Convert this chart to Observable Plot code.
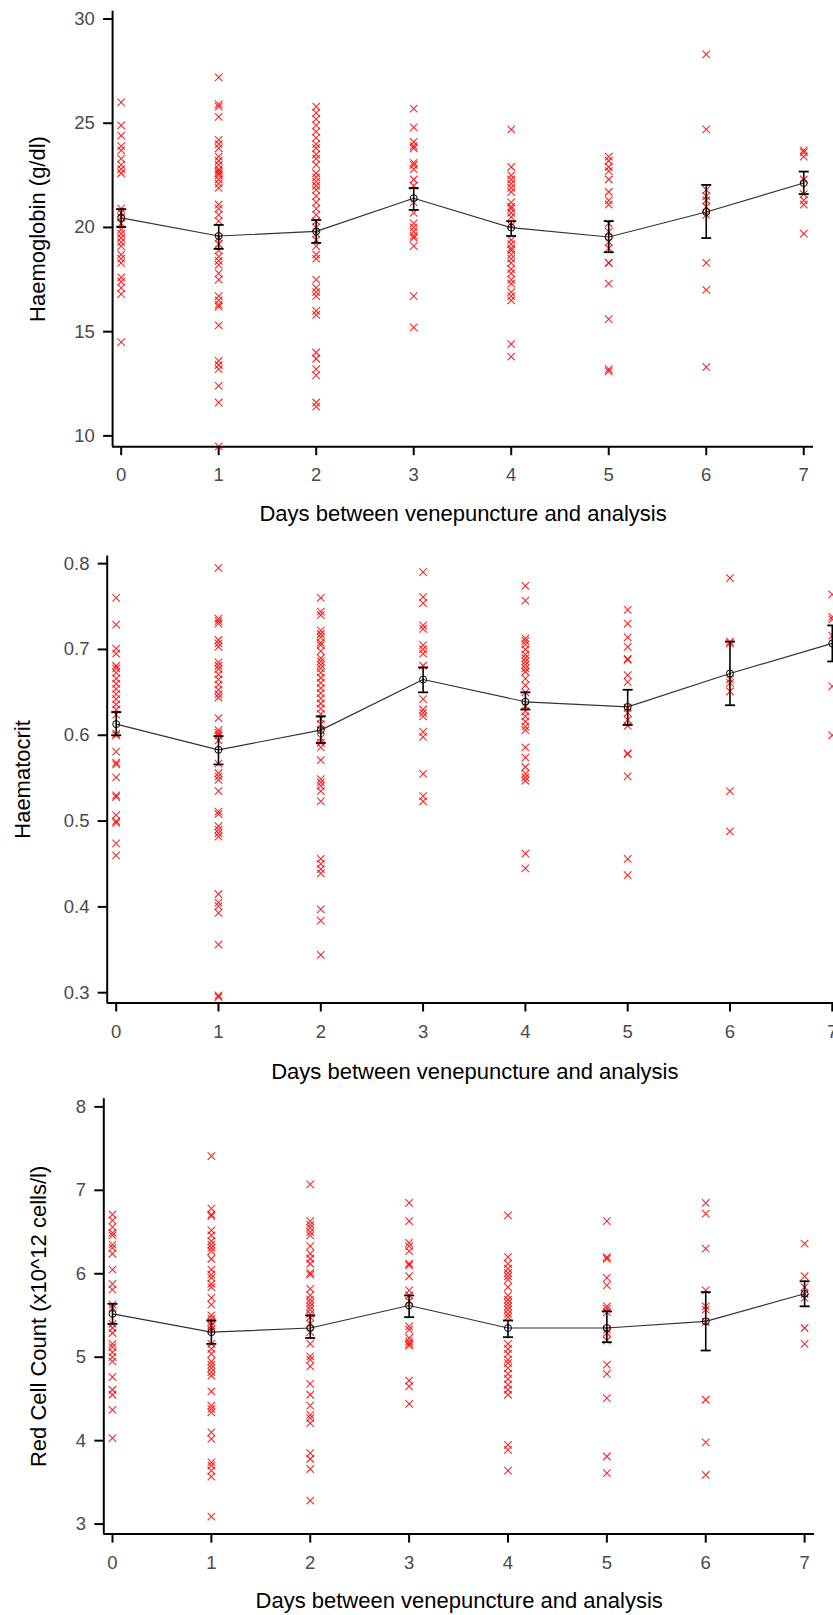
<!DOCTYPE html>
<html>
<head>
<meta charset="utf-8">
<script src="https://cdn.jsdelivr.net/npm/d3@7"></script>
<script src="https://cdn.jsdelivr.net/npm/@observablehq/plot@0.6"></script>
<style>
  html, body { margin: 0; padding: 0; background: #fff; overflow: hidden; }
  #chart svg { display: block; }
</style>
</head>
<body>
<div id="chart"></div>
<script>
// ---------- data ----------
const days = [0, 1, 2, 3, 4, 5, 6, 7];
const xTitle = "Days between venepuncture and analysis";

// Haemoglobin (g/dl) individual samples per day
const hbPoints = [
  [26.0, 24.9, 24.4, 23.9, 23.7, 23.3, 23.0, 22.8, 22.6, 20.9, 20.7, 20.5, 20.2, 19.9, 19.7, 19.5, 19.3, 19.1, 18.7, 18.5, 18.3, 17.6, 17.4, 17.1, 16.8, 14.5],
  [27.2, 25.9, 25.8, 25.3, 24.2, 24.0, 23.8, 23.4, 23.2, 23.0, 22.8, 22.7, 22.6, 22.5, 22.3, 22.1, 21.9, 21.1, 20.9, 20.6, 20.3, 19.5, 19.2, 18.9, 18.6, 18.4, 18.2, 17.8, 17.5, 16.7, 16.5, 16.3, 16.2, 15.3, 13.6, 13.4, 13.2, 12.4, 11.6, 9.5],
  [25.8, 25.5, 25.2, 24.9, 24.6, 24.3, 24.0, 23.8, 23.5, 23.3, 23.0, 22.6, 22.4, 22.2, 22.0, 21.8, 21.5, 21.2, 20.9, 20.6, 20.3, 20.0, 19.7, 19.4, 19.1, 18.7, 18.5, 17.5, 17.1, 16.9, 16.7, 16.0, 15.8, 14.0, 13.7, 13.2, 12.9, 11.6, 11.4],
  [25.7, 24.8, 24.1, 23.9, 23.8, 23.1, 23.0, 22.8, 22.3, 22.0, 21.2, 20.7, 20.2, 20.0, 19.8, 19.6, 19.5, 19.1, 16.7, 15.2],
  [24.7, 22.9, 22.5, 22.3, 22.1, 21.9, 21.7, 21.2, 21.0, 20.9, 20.7, 20.5, 20.1, 19.4, 19.2, 19.0, 18.9, 18.7, 18.5, 18.3, 18.0, 17.8, 17.5, 17.3, 16.9, 16.7, 16.5, 14.4, 13.8],
  [23.4, 23.2, 22.9, 22.7, 22.3, 21.7, 21.3, 21.1, 20.2, 19.8, 19.3, 19.0, 18.3, 18.3, 17.3, 15.6, 13.2, 13.1],
  [28.3, 24.7, 21.8, 21.5, 21.3, 21.0, 20.6, 18.3, 17.0, 13.3],
  [23.7, 23.6, 23.4, 22.3, 21.6, 21.3, 21.1, 19.7]
];
const hbMean = [20.46, 19.59, 19.81, 21.40, 19.99, 19.54, 20.74, 22.13];
const hbLow  = [20.02, 18.97, 19.26, 20.84, 19.59, 18.81, 19.49, 21.60];
const hbHigh = [20.88, 20.12, 20.35, 21.89, 20.30, 20.30, 22.04, 22.68];
const hbTicks = [10, 15, 20, 25, 30];

// Haematocrit
const hctPoints = [
  [0.760, 0.729, 0.701, 0.695, 0.681, 0.678, 0.673, 0.666, 0.660, 0.654, 0.648, 0.642, 0.636, 0.630, 0.624, 0.602, 0.600, 0.581, 0.568, 0.566, 0.551, 0.530, 0.528, 0.507, 0.500, 0.498, 0.474, 0.460],
  [0.795, 0.736, 0.733, 0.730, 0.711, 0.707, 0.703, 0.685, 0.681, 0.677, 0.671, 0.665, 0.659, 0.653, 0.648, 0.644, 0.620, 0.606, 0.603, 0.600, 0.594, 0.567, 0.556, 0.552, 0.548, 0.535, 0.511, 0.508, 0.494, 0.490, 0.486, 0.482, 0.415, 0.405, 0.401, 0.393, 0.356, 0.297, 0.295],
  [0.760, 0.744, 0.740, 0.722, 0.718, 0.714, 0.708, 0.705, 0.698, 0.690, 0.686, 0.682, 0.678, 0.673, 0.667, 0.661, 0.655, 0.649, 0.643, 0.637, 0.631, 0.625, 0.619, 0.613, 0.606, 0.597, 0.591, 0.586, 0.571, 0.549, 0.545, 0.541, 0.535, 0.523, 0.456, 0.450, 0.444, 0.439, 0.397, 0.384, 0.344],
  [0.790, 0.761, 0.754, 0.728, 0.724, 0.705, 0.700, 0.695, 0.681, 0.642, 0.630, 0.626, 0.622, 0.604, 0.598, 0.555, 0.529, 0.523],
  [0.774, 0.757, 0.713, 0.710, 0.706, 0.700, 0.694, 0.690, 0.686, 0.682, 0.678, 0.674, 0.666, 0.658, 0.650, 0.634, 0.628, 0.622, 0.616, 0.610, 0.606, 0.586, 0.574, 0.563, 0.555, 0.551, 0.547, 0.462, 0.445],
  [0.746, 0.730, 0.714, 0.703, 0.689, 0.688, 0.670, 0.662, 0.632, 0.626, 0.618, 0.611, 0.579, 0.578, 0.552, 0.456, 0.437],
  [0.783, 0.709, 0.707, 0.665, 0.661, 0.651, 0.535, 0.488],
  [0.764, 0.738, 0.735, 0.716, 0.657, 0.600]
];
const hctMean = [0.613, 0.583, 0.606, 0.665, 0.639, 0.633, 0.672, 0.707];
const hctLow  = [0.600, 0.566, 0.591, 0.650, 0.630, 0.612, 0.635, 0.686];
const hctHigh = [0.627, 0.599, 0.622, 0.679, 0.650, 0.653, 0.709, 0.728];
const hctTicks = [0.3, 0.4, 0.5, 0.6, 0.7, 0.8];

// Red Cell Count (x10^12 cells/l)
const rccPoints = [
  [6.71, 6.64, 6.56, 6.49, 6.46, 6.35, 6.31, 6.24, 6.05, 5.88, 5.81, 5.63, 5.59, 5.40, 5.35, 5.29, 5.16, 5.12, 5.06, 5.00, 4.95, 4.76, 4.61, 4.55, 4.37, 4.03],
  [7.41, 6.78, 6.71, 6.69, 6.52, 6.46, 6.39, 6.35, 6.31, 6.27, 6.18, 6.05, 5.99, 5.95, 5.88, 5.84, 5.71, 5.63, 5.50, 5.46, 5.42, 5.38, 5.33, 5.16, 5.10, 5.04, 4.95, 4.91, 4.87, 4.82, 4.78, 4.59, 4.42, 4.38, 4.34, 4.10, 4.02, 3.74, 3.70, 3.64, 3.57, 3.09],
  [7.07, 6.63, 6.59, 6.55, 6.50, 6.46, 6.33, 6.24, 6.18, 6.12, 6.01, 5.99, 5.82, 5.74, 5.69, 5.65, 5.61, 5.57, 5.52, 5.48, 5.40, 5.30, 5.16, 5.01, 4.97, 4.89, 4.68, 4.55, 4.42, 4.31, 4.27, 4.21, 3.85, 3.78, 3.66, 3.28],
  [6.85, 6.63, 6.37, 6.33, 6.27, 6.12, 6.10, 5.97, 5.80, 5.74, 5.67, 5.37, 5.33, 5.23, 5.19, 5.16, 5.14, 4.72, 4.65, 4.44],
  [6.70, 6.20, 6.12, 6.06, 6.01, 5.97, 5.93, 5.84, 5.74, 5.69, 5.65, 5.61, 5.57, 5.52, 5.48, 5.16, 5.10, 5.04, 4.97, 4.93, 4.87, 4.80, 4.74, 4.67, 4.61, 4.55, 3.95, 3.89, 3.64],
  [6.63, 6.20, 6.18, 5.95, 5.86, 5.61, 5.58, 5.54, 5.33, 5.29, 5.20, 4.91, 4.80, 4.51, 3.81, 3.61],
  [6.85, 6.72, 6.30, 5.80, 5.61, 5.57, 5.42, 4.49, 3.98, 3.59],
  [6.36, 5.97, 5.84, 5.76, 5.71, 5.35, 5.16]
];
const rccMean = [5.52, 5.30, 5.35, 5.62, 5.35, 5.35, 5.43, 5.76];
const rccLow  = [5.40, 5.16, 5.23, 5.48, 5.24, 5.18, 5.08, 5.61];
const rccHigh = [5.64, 5.44, 5.50, 5.74, 5.44, 5.55, 5.78, 5.91];
const rccTicks = [3, 4, 5, 6, 7, 8];

// ---------- drawing ----------
const FONT = "'Liberation Sans', Arial, Helvetica, sans-serif";
const capSymbol = {
  draw(ctx, size) {
    const w = Math.sqrt(size / Math.PI);
    ctx.moveTo(-w, 0);
    ctx.lineTo(w, 0);
  }
};

function panel(cfg) {
  const pts = [];
  cfg.points.forEach((arr, i) => arr.forEach(v => pts.push({day: days[i], v})));
  const summ = days.map((d, i) => ({day: d, mean: cfg.mean[i], lo: cfg.low[i], hi: cfg.high[i]}));
  const xDom = [-0.088, 7.1];
  return Plot.plot({
    width: cfg.width,
    height: cfg.height,
    marginTop: cfg.mt,
    marginBottom: cfg.mb,
    marginLeft: cfg.ml,
    marginRight: cfg.mr,
    style: {fontFamily: FONT, overflow: "visible", maxWidth: "none", background: "white"},
    x: {domain: xDom},
    y: {domain: cfg.yDom},
    marks: [
      Plot.dot(pts, {x: "day", y: "v", symbol: "times", r: 3.5, stroke: "#ff0000", strokeWidth: 1.1, strokeOpacity: 0.85}),
      Plot.line(summ, {x: "day", y: "mean", stroke: "#333", strokeWidth: 1.2}),
      Plot.ruleX(summ, {x: "day", y1: "lo", y2: "hi", stroke: "black", strokeWidth: 1.6}),
      Plot.dot(summ, {x: "day", y: "lo", symbol: capSymbol, r: 5, stroke: "black", fill: "none", strokeWidth: 1.8}),
      Plot.dot(summ, {x: "day", y: "hi", symbol: capSymbol, r: 5, stroke: "black", fill: "none", strokeWidth: 1.8}),
      Plot.dot(summ, {x: "day", y: "mean", r: 3.5, stroke: "black", fill: "none", strokeWidth: 1}),
      // axis lines at the frame edges
      Plot.ruleY([cfg.yDom[0]], {stroke: "black", strokeWidth: 2}),
      Plot.ruleX([xDom[0]], {stroke: "black", strokeWidth: 2}),
      Plot.axisX({ticks: days, tickFormat: d => String(d), tickSize: 9, tickPadding: cfg.xPad, fontSize: 18.5, fill: "#4a4a4a", stroke: "black", strokeWidth: 2, label: null}),
      Plot.axisY({ticks: cfg.ticks, tickFormat: cfg.fmt, tickSize: 9, tickPadding: 8.7, fontSize: 18.5, fill: "#4a4a4a", stroke: "black", strokeWidth: 2, label: null}),
      Plot.text([xTitle], {frameAnchor: "bottom", dy: cfg.xTitleDy, text: d => d, fontSize: 22, fill: "black", lineAnchor: "middle", textAnchor: "middle"}),
      Plot.text([cfg.yTitle], {frameAnchor: "left", dx: cfg.yTitleDx, rotate: -90, text: d => d, fontSize: 22, fill: "black", lineAnchor: "middle", textAnchor: "middle"})
    ]
  });
}

const root = document.getElementById("chart");
root.appendChild(panel({
  points: hbPoints, mean: hbMean, low: hbLow, high: hbHigh, ticks: hbTicks, fmt: d => String(d),
  yDom: [9.48, 30.37], width: 833, height: 530, mt: 10.8, mb: 83.8, ml: 112.1, mr: 20,
  xPad: 12.5, xTitleDy: 67, yTitle: "Haemoglobin (g/dl)", yTitleDx: -75
}));
root.appendChild(panel({
  points: hctPoints, mean: hctMean, low: hctLow, high: hctHigh, ticks: hctTicks, fmt: d => d.toFixed(1),
  yDom: [0.288, 0.809], width: 850, height: 555, mt: 25.4, mb: 82.5, ml: 106.7, mr: 8,
  xPad: 13, xTitleDy: 68.5, yTitle: "Haematocrit", yTitleDx: -84
}));
root.appendChild(panel({
  points: rccPoints, mean: rccMean, low: rccLow, high: rccHigh, ticks: rccTicks, fmt: d => String(d),
  yDom: [2.88, 8.098], width: 833, height: 530, mt: 13.2, mb: 81.4, ml: 103.3, mr: 19,
  xPad: 12.5, xTitleDy: 67, yTitle: "Red Cell Count (x10^12 cells/l)", yTitleDx: -65.3
}));
</script>
</body>
</html>
